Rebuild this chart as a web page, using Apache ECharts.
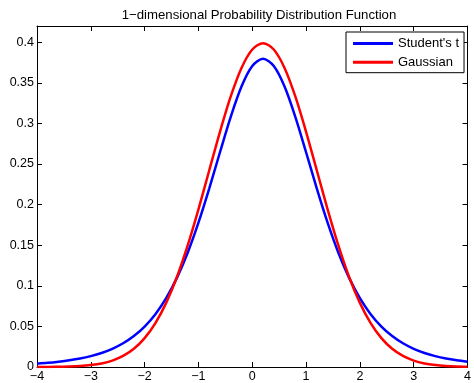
<!DOCTYPE html>
<html><head><meta charset="utf-8">
<script src="https://cdn.jsdelivr.net/npm/echarts@6/dist/echarts.min.js"></script>
<style>html,body{margin:0;padding:0;background:#fff}#c{width:474px;height:383px}</style>
</head><body><div id="c"></div>
<script>
var xValues = [-4.0,-3.8,-3.6,-3.4,-3.2,-3.0,-2.8,-2.6,-2.4,-2.2,-2.0,-1.8,-1.6,-1.4,-1.2,-1.0,-0.8,-0.6,-0.4,-0.2,0.0,0.2,0.4,0.6,0.8,1.0,1.2,1.4,1.6,1.8,2.0,2.2,2.4,2.6,2.8,3.0,3.2,3.4,3.6,3.8,4.0];
var studentT = [0.0041,0.0051,0.0065,0.0082,0.0104,0.0134,0.0173,0.0224,0.0292,0.0381,0.0498,0.0651,0.0848,0.1098,0.1407,0.1777,0.2197,0.2645,0.3081,0.3454,0.3706,0.3796,0.3706,0.3454,0.3081,0.2645,0.2197,0.1777,0.1407,0.1098,0.0848,0.0651,0.0498,0.0381,0.0292,0.0224,0.0173,0.0134,0.0104,0.0082,0.0065];
var gaussian = [0.0001,0.0001,0.0003,0.0006,0.0012,0.0024,0.0044,0.0079,0.0136,0.0224,0.0355,0.0540,0.0790,0.1109,0.1497,0.1942,0.2420,0.2897,0.3332,0.3683,0.3910,0.3989,0.3910,0.3683,0.3332,0.2897,0.2420,0.1942,0.1497,0.1109,0.0790,0.0540,0.0355,0.0224,0.0136,0.0079,0.0044,0.0024,0.0012,0.0006,0.0003];
var seriesNames = ["Student's t", "Gaussian"];
var titleText = "1\u2212dimensional Probability Distribution Function";

function pairs(ys){ return xValues.map(function(x,i){ return [x, ys[i]]; }); }
var font = "Liberation Sans, Arial, Helvetica, sans-serif";
var chart = echarts.init(document.getElementById('c'));
var axisCommon = {
  axisLine:{show:true, onZero:false, lineStyle:{color:'#000', width:1}},
  axisTick:{show:true, inside:true, length:5, lineStyle:{color:'#000', width:1}},
  splitLine:{show:false}
};
function minus(v){ return String(v).replace('-', '\u2212'); }
chart.setOption({
  animation:false,
  backgroundColor:'#fff',
  title:{text:titleText, left:254, textAlign:'center', top:4,
    textStyle:{fontFamily:font, fontSize:13.2, fontWeight:'normal', color:'#000'}},
  grid:{left:37, right:2, top:26, bottom:15, containLabel:false},
  legend:{
    data:seriesNames, orient:'vertical', left:346, top:32,
    icon:'rect', itemWidth:40, itemHeight:3, itemGap:3.7,
    padding:[4,5,3,7], borderColor:'#000', borderWidth:1, backgroundColor:'#fff',
    textStyle:{fontFamily:font, fontSize:13, color:'#000', lineHeight:15}
  },
  xAxis:[
    Object.assign({type:'value', min:-4, max:4, interval:1, position:'bottom',
      axisLabel:{fontFamily:font, fontSize:12.5, color:'#000', margin:3, formatter:minus}}, axisCommon),
    Object.assign({type:'value', min:-4, max:4, interval:1, position:'top',
      axisLabel:{show:false}}, axisCommon)
  ],
  yAxis:[
    Object.assign({type:'value', min:0, max:0.42, interval:0.05, position:'left',
      axisLabel:{fontFamily:font, fontSize:12.5, color:'#000', margin:3, showMaxLabel:false}}, axisCommon),
    Object.assign({type:'value', min:0, max:0.42, interval:0.05, position:'right',
      axisLabel:{show:false}}, axisCommon)
  ],
  series:[
    {name:seriesNames[0], type:'line', data:pairs(studentT), showSymbol:false, smooth:0.3,
      lineStyle:{color:'#0000ff', width:2.5}, itemStyle:{color:'#0000ff'}},
    {name:seriesNames[1], type:'line', data:pairs(gaussian), showSymbol:false, smooth:0.3,
      lineStyle:{color:'#ff0000', width:2.5}, itemStyle:{color:'#ff0000'}}
  ]
});
</script></body></html>
